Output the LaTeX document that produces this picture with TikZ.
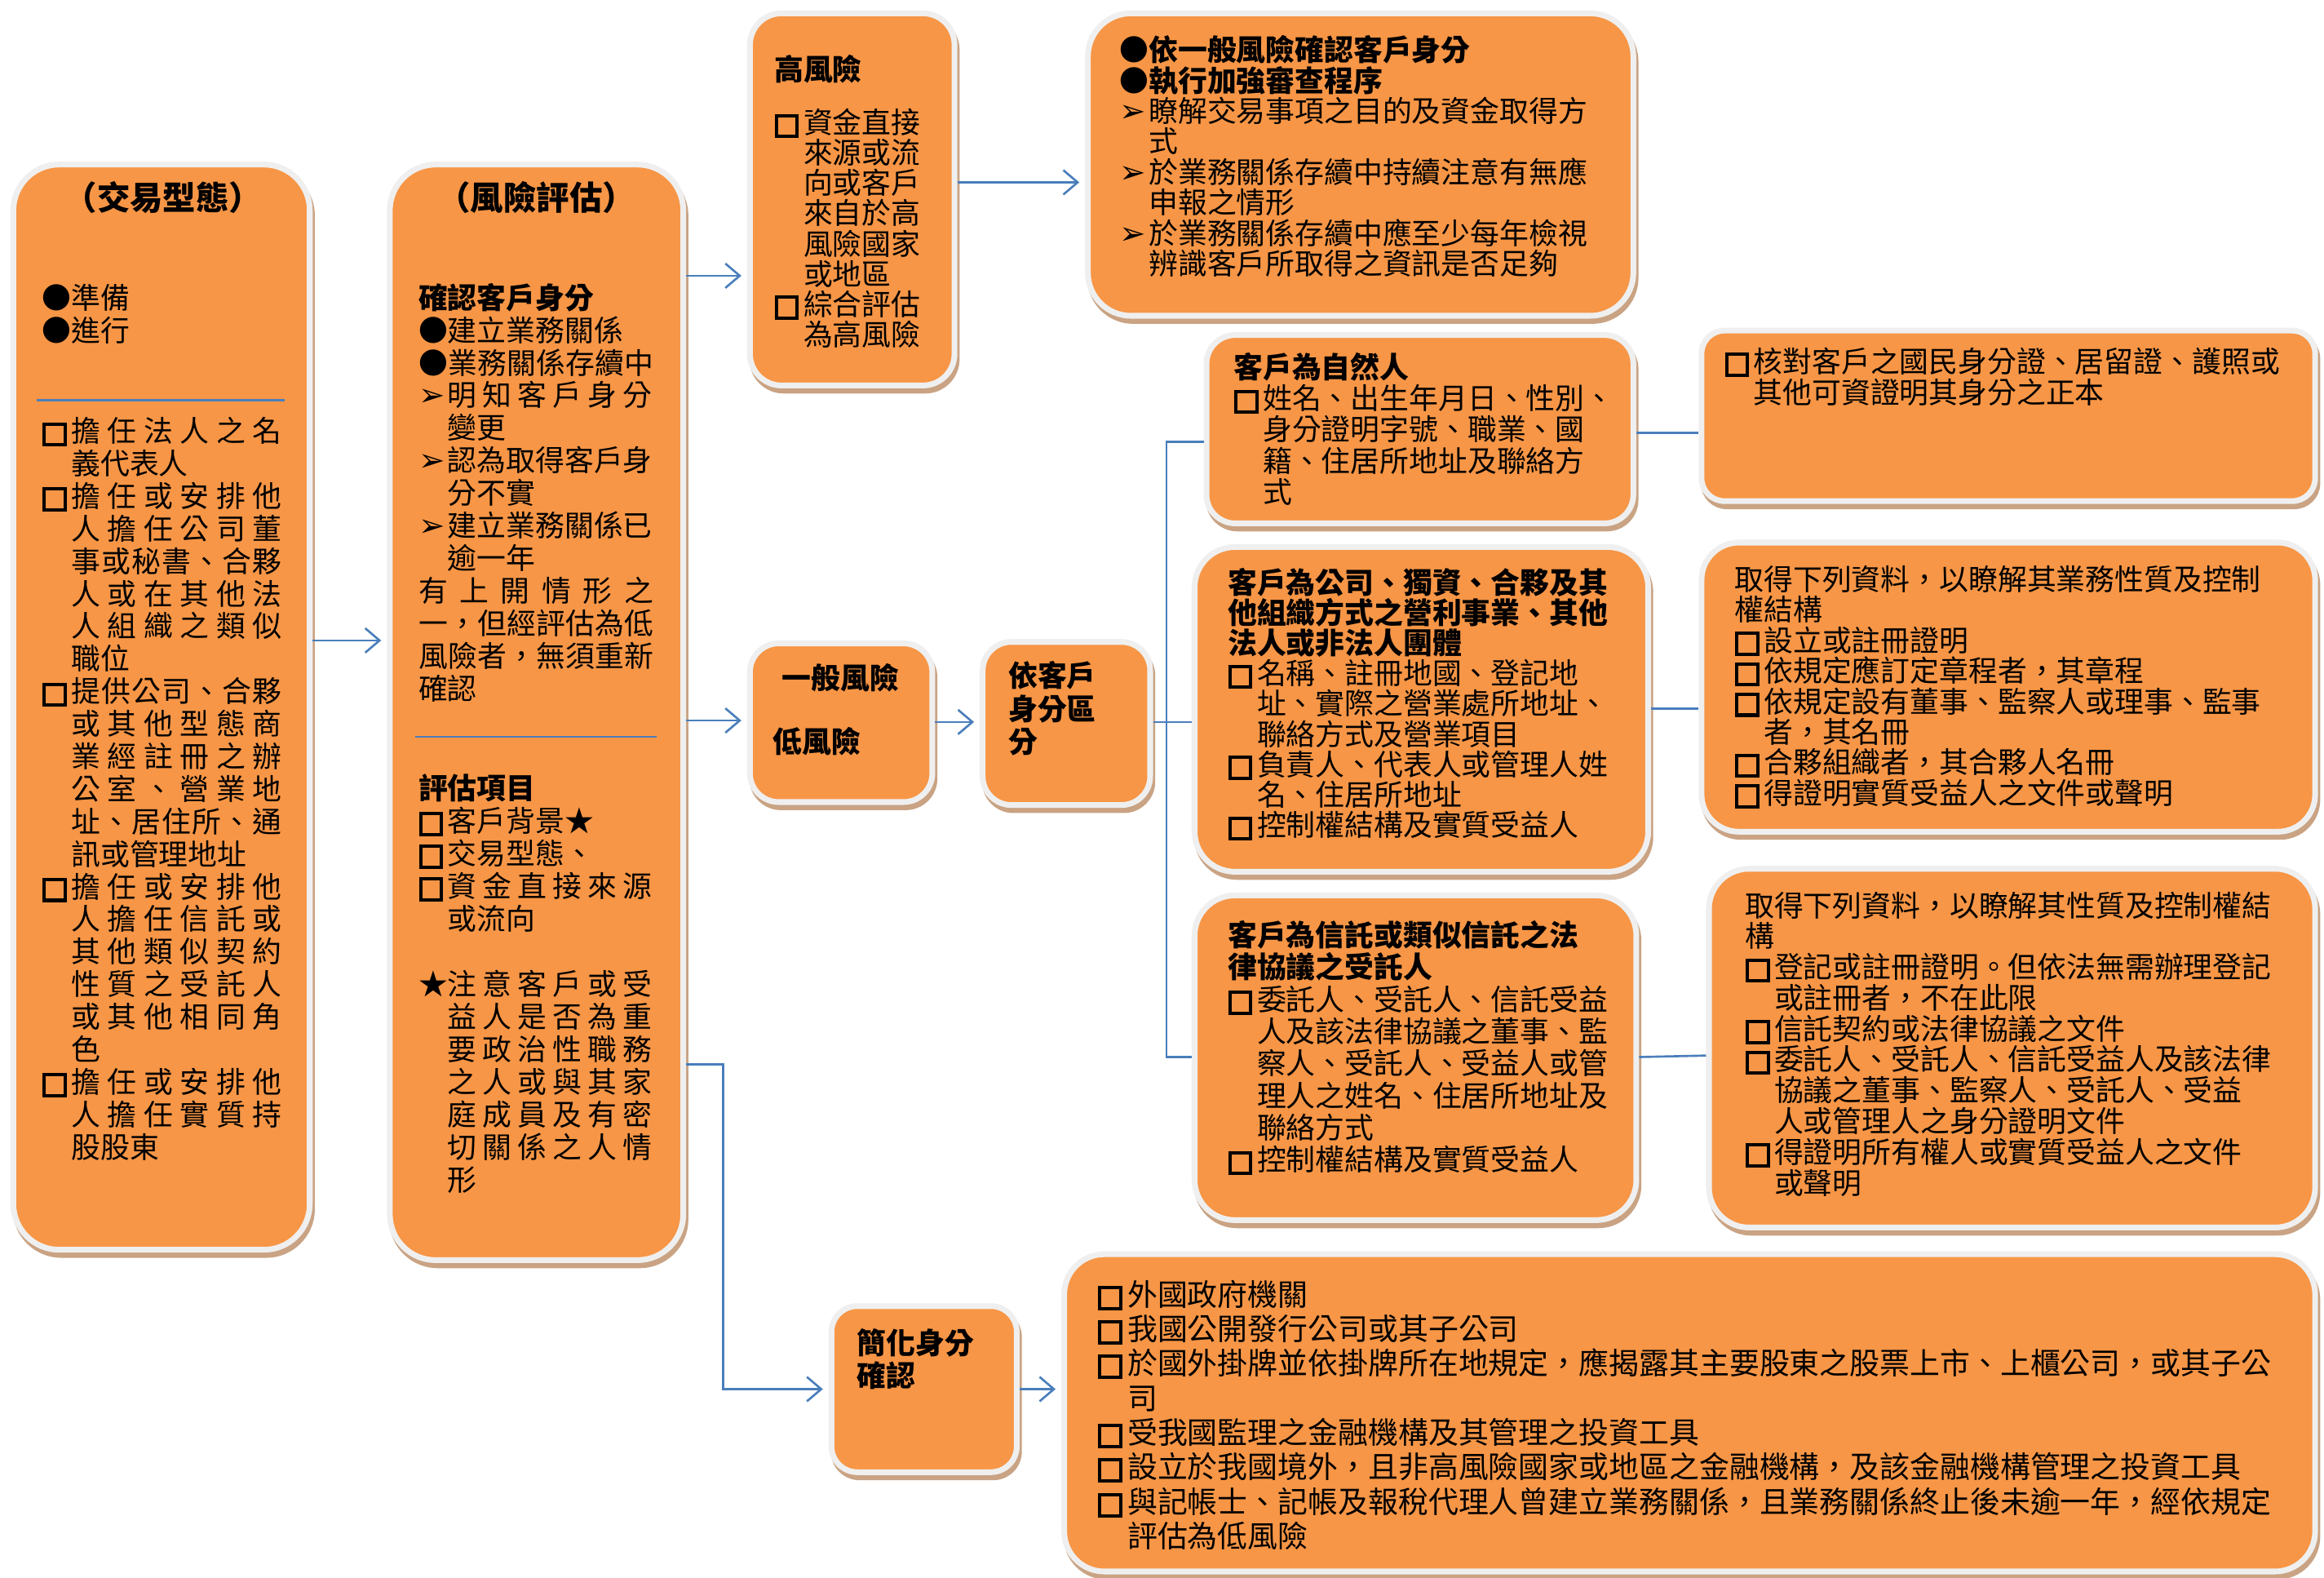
\documentclass[tikz,border=0pt]{standalone}
\usepackage{fontspec}
\setmainfont{Noto Sans CJK TC}
\newfontfamily\dejavu{DejaVu Sans}
\usetikzlibrary{arrows.meta,fit,calc}
\definecolor{orng}{HTML}{F79646}
\definecolor{bordc}{HTML}{EFEFEF}
\definecolor{shadc}{HTML}{C9A383}
\definecolor{conn}{HTML}{4A7EBB}
\newcommand\fs[2]{\fontsize{#1pt}{#2pt}\selectfont}
\newcommand\Z{\rule{0pt}{1em}}
\newcommand\I{\hspace*{1em}}
\newcommand\A{\makebox[1em][l]{\dejavu\bfseries\fontsize{11pt}{11pt}\selectfont ➢}}
\catcode`\□=\active
\protected\def□{\makebox[1em][l]{\hspace{0.02em}\raisebox{-0.04em}{\setlength\fboxsep{0pt}\setlength\fboxrule{1.15pt}\fbox{\rule{0pt}{0.6em}\hspace{0.6em}}}}}
\def\Jfirst#1{#1\Jrest}
\def\Jrest#1{\ifx\relax#1\else\hfil#1\expandafter\Jrest\fi}
\newcommand\J[2][73.5pt]{\hbox to #1{\Jfirst#2\relax}}
\newcommand\obox[4]{%
  \path[fill=shadc, draw=shadc, line width=2pt, rounded corners=#4] ($#2+(1.5,3.5)$) rectangle ($#3+(1.5,3.5)$);
  \node[box, rounded corners=#4, fit={#2 #3}] (#1) {};}
\begin{document}
\begin{tikzpicture}[x=0.01817cm,y=-0.01817cm,
  box/.style={fill=orng, draw=bordc, line width=2pt, inner sep=0pt},
  txt/.style={anchor=north west, inner sep=0pt, align=left},
  ttl/.style={inner sep=0pt, font=\bfseries\fs{11.5}{13}},
  bt/.style={inner sep=0pt, font=\bfseries\fs{10.2}{12}},
  arr/.style={draw=conn, line width=0.75pt, -{Straight Barb[length=5pt,width=8.5pt]}, shorten >=2pt},
  ln/.style={draw=conn, line width=0.75pt},
  sepl/.style={draw=conn, line width=0.75pt}]
\fill[white] (0,0) rectangle (1568,1064);
\useasboundingbox (0,0) rectangle (1568,1064);

% boxes
\obox{A}{(9,111)}{(209,843)}{16pt}
\obox{B}{(263,111)}{(461,850)}{16pt}
\obox{C}{(506,9)}{(644,260)}{11pt}
\obox{D}{(734,9)}{(1102,213)}{15pt}
\obox{E}{(506,434)}{(629,541)}{10pt}
\obox{F}{(663,433)}{(776,543)}{10pt}
\obox{G}{(814,226)}{(1102,353)}{10pt}
\obox{H}{(1148,223)}{(1562,338)}{8pt}
\obox{I}{(806,369)}{(1112,588)}{14pt}
\obox{J}{(1148,366)}{(1562,561)}{13pt}
\obox{K}{(806,604)}{(1104,823)}{14pt}
\obox{L}{(1153,586)}{(1562,828)}{14pt}
\obox{M}{(561,881)}{(686,993)}{9pt}
\obox{N}{(718,846)}{(1562,1060)}{14pt}

% separators
\draw[sepl] (25,270) -- (192,270);
\draw[sepl] (280,497) -- (443,497);

% box A
\node[ttl] (tA) at (110,133) {（交易型態）};
\node[txt, font=\fs{10.2}{11.37}] (tA1) at (28,188) {\Z{}●準備\\●進行};
\node[txt, font=\fs{10.2}{11.35}] (tA2) at (28,278) {\Z{}□\J{擔任法人之名}\\
\I{}義代表人\\
□\J{擔任或安排他}\\
\I{}\J{人擔任公司董}\\
\I{}\J{事或秘書、合夥}\\
\I{}\J{人或在其他法}\\
\I{}\J{人組織之類似}\\
\I{}職位\\
□\J{提供公司、合夥}\\
\I{}\J{或其他型態商}\\
\I{}\J{業經註冊之辦}\\
\I{}\J{公室、營業地}\\
\I{}\J{址、居住所、通}\\
\I{}訊或管理地址\\
□\J{擔任或安排他}\\
\I{}\J{人擔任信託或}\\
\I{}\J{其他類似契約}\\
\I{}\J{性質之受託人}\\
\I{}\J{或其他相同角}\\
\I{}色\\
□\J{擔任或安排他}\\
\I{}\J{人擔任實質持}\\
\I{}股股東};

% box B
\node[ttl] (tB) at (362,133) {（風險評估）};
\node[txt, font=\fs{10.2}{11.37}] (tB1) at (282,188) {\Z{}\textbf{確認客戶身分}\\
●建立業務關係\\
\J[82pt]{●業務關係存續中}\\
\A{}\J[71.3pt]{明知客戶身分}\\
\I{}變更\\
\A{}\J[71.3pt]{認為取得客戶身}\\
\I{}分不實\\
\A{}\J[71.3pt]{建立業務關係已}\\
\I{}逾一年\\
\J[82pt]{有上開情形之}\\
\J[82pt]{一，但經評估為低}\\
\J[82pt]{風險者，無須重新}\\
確認};
\node[txt, font=\fs{10.2}{11.37}] (tB2) at (282,519) {\Z{}\textbf{評估項目}\\
□客戶背景★\\
□交易型態、\\
□\J[71.3pt]{資金直接來源}\\
\I{}或流向\\
\mbox{}\\
★\J[71.3pt]{注意客戶或受}\\
\I{}\J[71.3pt]{益人是否為重}\\
\I{}\J[71.3pt]{要政治性職務}\\
\I{}\J[71.3pt]{之人或與其家}\\
\I{}\J[71.3pt]{庭成員及有密}\\
\I{}\J[71.3pt]{切關係之人情}\\
\I{}形};

% box C
\node[txt, font=\bfseries\fs{10.2}{11}] (tC1) at (522,34) {\Z{}高風險};
\node[txt, font=\fs{10.2}{10.55}] (tC2) at (522,70) {\Z{}□資金直接\\
\I{}來源或流\\
\I{}向或客戶\\
\I{}來自於高\\
\I{}風險國家\\
\I{}或地區\\
□綜合評估\\
\I{}為高風險};

% box D
\node[txt, font=\fs{10.2}{10.65}] (tD) at (755,21) {\Z{}\textbf{●依一般風險確認客戶身分}\\
\textbf{●執行加強審查程序}\\
\A{}瞭解交易事項之目的及資金取得方\\
\I{}式\\
\A{}於業務關係存續中持續注意有無應\\
\I{}申報之情形\\
\A{}於業務關係存續中應至少每年檢視\\
\I{}辨識客戶所取得之資訊是否足夠};

% box E, F
\node[bt] (tE1) at (567,457) {一般風險};
\node[bt, anchor=west] (tE2) at (521,500) {低風險};
\node[txt, font=\bfseries\fs{10.2}{11.6}] (tF) at (680,443) {\Z{}依客戶\\身分區\\分};

% box G, H
\node[txt, font=\fs{10.2}{10.86}] (tG) at (832,235) {\Z{}\textbf{客戶為自然人}\\
□姓名、出生年月日、性別、\\
\I{}身分證明字號、職業、國\\
\I{}籍、住居所地址及聯絡方\\
\I{}式};
\node[txt, font=\fs{10.2}{10.86}] (tH) at (1163,231) {\Z{}□核對客戶之國民身分證、居留證、護照或\\
\I{}其他可資證明其身分之正本};

% box I, J
\node[txt, font=\fs{10.2}{10.6}] (tI) at (828,380) {\Z{}\textbf{客戶為公司、獨資、合夥及其}\\
\textbf{他組織方式之營利事業、其他}\\
\textbf{法人或非法人團體}\\
□名稱、註冊地國、登記地\\
\I{}址、實際之營業處所地址、\\
\I{}聯絡方式及營業項目\\
□負責人、代表人或管理人姓\\
\I{}名、住居所地址\\
□控制權結構及實質受益人};
\node[txt, font=\fs{10.2}{10.65}] (tJ) at (1170,378) {\Z{}取得下列資料，以瞭解其業務性質及控制\\
權結構\\
□設立或註冊證明\\
□依規定應訂定章程者，其章程\\
□依規定設有董事、監察人或理事、監事\\
\I{}者，其名冊\\
□合夥組織者，其合夥人名冊\\
□得證明實質受益人之文件或聲明};

% box K, L
\node[txt, font=\fs{10.2}{11.2}] (tK) at (828,618) {\Z{}\textbf{客戶為信託或類似信託之法}\\
\textbf{律協議之受託人}\\
□委託人、受託人、信託受益\\
\I{}人及該法律協議之董事、監\\
\I{}察人、受託人、受益人或管\\
\I{}理人之姓名、住居所地址及\\
\I{}聯絡方式\\
□控制權結構及實質受益人};
\node[txt, font=\fs{10.2}{10.75}] (tL) at (1177,598) {\Z{}取得下列資料，以瞭解其性質及控制權結\\
構\\
□登記或註冊證明。但依法無需辦理登記\\
\I{}或註冊者，不在此限\\
□信託契約或法律協議之文件\\
□委託人、受託人、信託受益人及該法律\\
\I{}協議之董事、監察人、受託人、受益\\
\I{}人或管理人之身分證明文件\\
□得證明所有權人或實質受益人之文件\\
\I{}或聲明};

% box M, N
\node[txt, font=\bfseries\fs{10.2}{11.37}] (tM) at (578,893) {\Z{}簡化身分\\確認};
\node[txt, font=\fs{10.5}{12.05}] (tN) at (740,860) {\Z{}□外國政府機關\\
□我國公開發行公司或其子公司\\
□於國外掛牌並依掛牌所在地規定，應揭露其主要股東之股票上市、上櫃公司，或其子公\\
\I{}司\\
□受我國監理之金融機構及其管理之投資工具\\
□設立於我國境外，且非高風險國家或地區之金融機構，及該金融機構管理之投資工具\\
□與記帳士、記帳及報稅代理人曾建立業務關係，且業務關係終止後未逾一年，經依規定\\
\I{}評估為低風險};

% helper coordinates
\coordinate (y123) at (0,123);
\coordinate (y186) at (0,186);
\coordinate (y292) at (0,292);
\coordinate (y298) at (0,298);
\coordinate (y432) at (0,432);
\coordinate (y478) at (0,478);
\coordinate (y486) at (0,486);
\coordinate (y487) at (0,487);
\coordinate (y712) at (0,712);
\coordinate (y713) at (0,713);
\coordinate (y718) at (0,718);
\coordinate (y937) at (0,937);
\coordinate (bus) at (787,0);
\coordinate (jog) at (488,0);

% connectors
\draw[arr] (A.east |- y432) -- (B.west |- y432);
\draw[arr] (B.east |- y186) -- (C.west |- y186);
\draw[arr] (B.east |- y486) -- (E.west |- y486);
\draw[arr] (C.east |- y123) -- (D.west |- y123);
\draw[arr] (E.east |- y487) -- (F.west |- y487);
\draw[ln] (F.east |- y487) -- (I.west |- y487);
\draw[ln] (G.west |- y298) -- (bus |- y298) -- (bus |- y713) -- (K.west |- y713);
\draw[ln] (G.east |- y292) -- (H.west |- y292);
\draw[ln] (I.east |- y478) -- (J.west |- y478);
\draw[ln] (K.east |- y713) -- (L.west |- y712);
\draw[arr] (B.east |- y718) -- (jog |- y718) -- (jog |- y937) -- (M.west |- y937);
\draw[arr] (M.east |- y937) -- (N.west |- y937);
\end{tikzpicture}
\end{document}
